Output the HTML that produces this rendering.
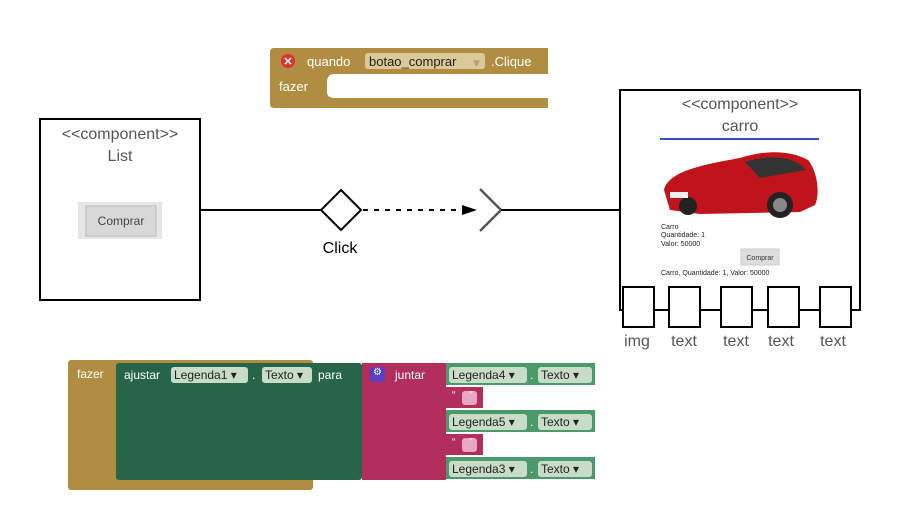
<!DOCTYPE html>
<html><head><meta charset="utf-8"><style>
body{margin:0;width:900px;height:529px;background:#fff;position:relative;overflow:hidden;font-family:"Liberation Sans",sans-serif}
.a{position:absolute}
.pill{position:absolute;background:#c8dcc8;border-radius:3px;color:#222;font-size:12px;line-height:16px;padding:0 3px;box-sizing:border-box}
.w{color:#fff;font-size:12px;position:absolute}
</style></head><body>
<svg class="a" style="left:0;top:0" width="900" height="529">
<rect x="40" y="119" width="160" height="181" fill="#fff" stroke="#000" stroke-width="2"/>
<text x="120" y="139" font-size="16" fill="#555" text-anchor="middle" font-family="Liberation Sans">&lt;&lt;component&gt;&gt;</text>
<text x="120" y="161" font-size="16" fill="#555" text-anchor="middle" font-family="Liberation Sans">List</text>
<rect x="78" y="202" width="84" height="37" fill="#e6e6e6"/>
<rect x="86" y="206" width="70" height="30" fill="#d8d8d8" stroke="#bbb"/>
<text x="121" y="225" font-size="12" fill="#444" text-anchor="middle" font-family="Liberation Sans">Comprar</text>
<line x1="200" y1="210" x2="321" y2="210" stroke="#000" stroke-width="2"/>
<polygon points="341,190 361,210 341,230 321,210" fill="#fff" stroke="#000" stroke-width="2"/>
<text x="340" y="253" font-size="16" fill="#000" text-anchor="middle" font-family="Liberation Sans">Click</text>
<line x1="363" y1="210" x2="464" y2="210" stroke="#000" stroke-width="2" stroke-dasharray="5,6"/>
<polygon points="462,205 477,210 462,215" fill="#000"/>
<polyline points="480,189 501,210 480,231" fill="none" stroke="#555" stroke-width="2.5"/>
<line x1="501" y1="210" x2="620" y2="210" stroke="#000" stroke-width="2"/>
<rect x="620" y="90" width="240" height="220" fill="#fff" stroke="#000" stroke-width="2"/>
<text x="740" y="109" font-size="16" fill="#555" text-anchor="middle" font-family="Liberation Sans">&lt;&lt;component&gt;&gt;</text>
<text x="740" y="131" font-size="16" fill="#555" text-anchor="middle" font-family="Liberation Sans">carro</text>
<line x1="660" y1="139" x2="819" y2="139" stroke="#3b4fb8" stroke-width="2"/>
<path d="M664,190 C668,172 700,165 740,158 C765,150 790,150 808,160 C818,172 820,195 815,205 L800,212 L700,214 L670,210 Z" fill="#c0141c"/>
<path d="M745,162 C770,154 795,156 806,170 L760,178 Z" fill="#333"/>
<circle cx="780" cy="205" r="13" fill="#222"/><circle cx="780" cy="205" r="7" fill="#888"/>
<circle cx="688" cy="206" r="9" fill="#222"/>
<rect x="670" y="192" width="18" height="6" fill="#eee"/>
<g font-size="7" fill="#222" font-family="Liberation Sans">
<text x="661" y="229">Carro</text><text x="661" y="237">Quantidade: 1</text><text x="661" y="246">Valor: 50000</text>
<text x="661" y="275">Carro, Quantidade: 1, Valor: 50000</text></g>
<rect x="741" y="249" width="38" height="16" fill="#ddd" stroke="#ccc"/>
<text x="760" y="260" font-size="7" fill="#333" text-anchor="middle" font-family="Liberation Sans">Comprar</text>
<line x1="654" y1="310" x2="820" y2="310" stroke="#000" stroke-width="2"/>
<g fill="#fff" stroke="#000" stroke-width="2">
<rect x="623" y="287" width="31" height="40"/><rect x="669" y="287" width="31" height="40"/>
<rect x="721" y="287" width="31" height="40"/><rect x="768" y="287" width="31" height="40"/>
<rect x="820" y="287" width="31" height="40"/></g>
<g font-size="16" fill="#555" text-anchor="middle" font-family="Liberation Sans">
<text x="637" y="346">img</text><text x="684" y="346">text</text><text x="736" y="346">text</text><text x="781" y="346">text</text><text x="833" y="346">text</text></g>
<!-- top block -->
<path d="M274,48 H548 V74 H335 Q327,74 327,82 V92 Q327,98 335,98 H548 V108 H274 Q270,108 270,104 V52 Q270,48 274,48Z" fill="#b08d40"/>
<circle cx="288" cy="61" r="7" fill="#d33"/>
<text x="288" y="65" font-size="11" fill="#fff" text-anchor="middle" font-weight="bold" font-family="Liberation Sans">✕</text>
<rect x="365" y="53" width="120" height="16" rx="3" fill="#dcc99a"/>
<text x="307" y="66" font-size="13" fill="#fff" font-family="Liberation Sans">quando</text>
<text x="369" y="66" font-size="13" fill="#222" font-family="Liberation Sans">botao_comprar</text>
<text x="473" y="66" font-size="9" fill="#b8a070" font-family="DejaVu Sans">▼</text>
<text x="491" y="66" font-size="13" fill="#fff" font-family="Liberation Sans">.Clique</text>
<text x="279" y="91" font-size="13" fill="#fff" font-family="Liberation Sans">fazer</text>
<!-- bottom -->
<rect x="68" y="360" width="245" height="130" rx="3" fill="#b08d40"/>
<rect x="116" y="363" width="246" height="117" rx="3" fill="#276548"/>
<rect x="362" y="363" width="84" height="117" fill="#b22e5c"/>
<rect x="446" y="363" width="149" height="22" fill="#4a9a6c"/>
<rect x="446" y="410" width="149" height="22" fill="#4a9a6c"/>
<rect x="446" y="457" width="149" height="22" fill="#4a9a6c"/>
<rect x="446" y="387" width="37" height="21" fill="#b22e5c"/>
<rect x="446" y="434" width="37" height="21" fill="#b22e5c"/>
<rect x="462" y="391" width="15" height="14" rx="3" fill="#e7a9c0"/>
<rect x="462" y="438" width="15" height="14" rx="3" fill="#e7a9c0"/>
<rect x="370" y="367" width="15" height="15" rx="3" fill="#5b3fc0"/>
</svg>
<div class="w" style="left:77px;top:367px">fazer</div>
<div class="w" style="left:124px;top:368px">ajustar</div>
<div class="pill" style="left:171px;top:367px;width:77px">Legenda1 ▾</div>
<div class="w" style="left:252px;top:368px">.</div>
<div class="pill" style="left:262px;top:367px;width:50px">Texto ▾</div>
<div class="w" style="left:318px;top:368px">para</div>
<div class="w" style="left:373px;top:367px;font-size:10px">⚙</div>
<div class="w" style="left:395px;top:368px">juntar</div>
<div class="pill" style="left:449px;top:367px;width:78px">Legenda4 ▾</div><div class="w" style="left:530px;top:368px">.</div><div class="pill" style="left:538px;top:367px;width:54px">Texto ▾</div>
<div class="pill" style="left:449px;top:414px;width:78px">Legenda5 ▾</div><div class="w" style="left:530px;top:415px">.</div><div class="pill" style="left:538px;top:414px;width:54px">Texto ▾</div>
<div class="pill" style="left:449px;top:461px;width:78px">Legenda3 ▾</div><div class="w" style="left:530px;top:462px">.</div><div class="pill" style="left:538px;top:461px;width:54px">Texto ▾</div>
<div class="w" style="left:452px;top:390px;font-size:10px">“ &nbsp; &nbsp; ”</div>
<div class="w" style="left:452px;top:437px;font-size:10px">“ &nbsp; &nbsp; ”</div>
</body></html>
